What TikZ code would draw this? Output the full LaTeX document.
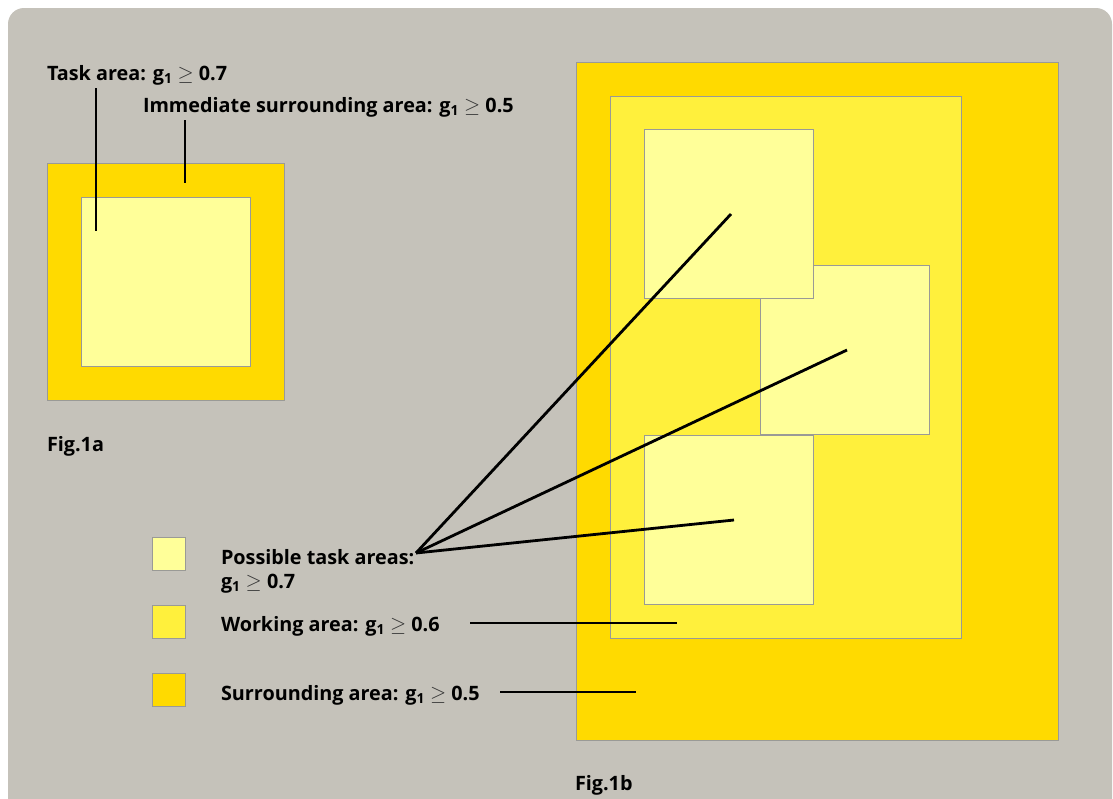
\documentclass[tikz,border=0pt]{standalone}
\usepackage{fontspec}
\setmainfont{Open Sans}
\begin{document}
\begin{tikzpicture}[x=1pt,y=-1pt,
  every node/.style={inner sep=0pt,outer sep=0pt},
  area/.style={draw=boxgray,line width=1pt},
  lbl/.style={anchor=base west,font=\bfseries\fontsize{19.8}{22}\selectfont,text=black},
  lead/.style={line width=2.8pt,black}]
\definecolor{bggray}{HTML}{C5C2BA}
\definecolor{boxgray}{HTML}{9A9A96}
\definecolor{surr}{HTML}{FFDA00}
\definecolor{work}{HTML}{FFF03C}
\definecolor{task}{HTML}{FFFF99}
\newcommand{\gge}{\textsubscript{1} \textmd{\color{black!80}$\geq$} }
\useasboundingbox (0,0) rectangle (1113,798);
\fill[white] (0,0) rectangle (1113,798);
\fill[bggray,rounded corners=16pt] (8,8) rectangle (1112,830);
% Fig 1a
\node[area,fill=surr,minimum width=237pt,minimum height=237pt,anchor=north west] (a-out) at (47,163) {};
\node[area,fill=task,minimum width=169pt,minimum height=169pt,anchor=north west] (a-in) at (81,197) {};
\node[lbl] (t-task) at (47,80) {Task area: g\gge 0.7};
\node[lbl] (t-imm) at (143,112) {Immediate surrounding area: g\gge 0.5};
\node[lbl] (t-fa) at (47,451) {Fig.1a};
\coordinate (c1a) at (96,88); \coordinate (c1b) at (96,231);
\coordinate (c2a) at (185,120); \coordinate (c2b) at (185,183);
\draw[lead] (c1a) -- (c1b);
\draw[lead] (c2a) -- (c2b);
% Fig 1b
\node[area,fill=surr,minimum width=482pt,minimum height=678pt,anchor=north west] (b-out) at (576,62) {};
\node[area,fill=work,minimum width=351pt,minimum height=542pt,anchor=north west] (b-work) at (610,96) {};
\node[area,fill=task,minimum width=169pt,minimum height=169pt,anchor=north west] (b-t2) at (760,265) {};
\node[area,fill=task,minimum width=169pt,minimum height=169pt,anchor=north west] (b-t1) at (644,129) {};
\node[area,fill=task,minimum width=169pt,minimum height=169pt,anchor=north west] (b-t3) at (644,435) {};
\node[lbl] (t-fb) at (575,790) {Fig.1b};
% legend
\node[area,fill=task,minimum width=33pt,minimum height=33pt,anchor=north west] (l-task) at (152,537) {};
\node[area,fill=work,minimum width=33pt,minimum height=33pt,anchor=north west] (l-work) at (152,605) {};
\node[area,fill=surr,minimum width=33pt,minimum height=33pt,anchor=north west] (l-surr) at (152,673) {};
\node[lbl] (t-pos) at (221,564) {Possible task areas:};
\node[lbl] (t-pos2) at (221,588) {g\gge 0.7};
\node[lbl] (t-work) at (221,631) {Working area: g\gge 0.6};
\node[lbl] (t-surr) at (221,700) {Surrounding area: g\gge 0.5};
% leaders
\coordinate (hub) at (416,553);
\coordinate (e1) at (731,214);
\coordinate (e2) at (847,350);
\coordinate (e3) at (734,520);
\draw[lead] (hub) -- (e1);
\draw[lead] (hub) -- (e2);
\draw[lead] (hub) -- (e3);
\coordinate (w1) at (470,623); \coordinate (w2) at (677,623);
\coordinate (s1) at (500,692); \coordinate (s2) at (636,692);
\draw[lead] (w1) -- (w2);
\draw[lead] (s1) -- (s2);
\end{tikzpicture}
\end{document}
